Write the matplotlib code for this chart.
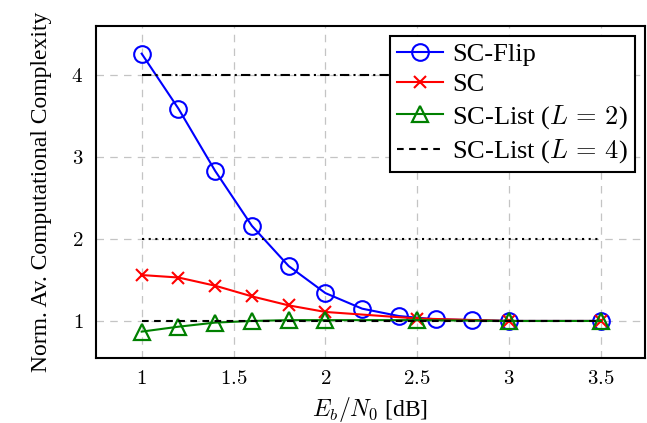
import matplotlib
matplotlib.use("Agg")
import matplotlib.pyplot as plt

plt.rcParams['font.family'] = ['Liberation Serif', 'DejaVu Serif']
plt.rcParams['mathtext.fontset'] = 'cm'

# Data
x_flip = [1.0, 1.2, 1.4, 1.6, 1.8, 2.0, 2.2, 2.4, 2.6, 2.8, 3.0, 3.5]
y_flip = [4.26, 3.59, 2.83, 2.16, 1.67, 1.34, 1.15, 1.06, 1.02, 1.01, 1.0, 1.0]

x_sc = [1.0, 1.2, 1.4, 1.6, 1.8, 2.0, 2.5, 3.0, 3.5]
y_sc = [1.56, 1.53, 1.43, 1.30, 1.19, 1.11, 1.03, 1.0, 1.0]

x_l2 = [1.0, 1.2, 1.4, 1.6, 1.8, 2.0, 2.5, 3.0, 3.5]
y_l2 = [0.87, 0.93, 0.98, 1.0, 1.01, 1.01, 1.01, 1.0, 1.0]

x_ref = [1.0, 3.5]
y_l4 = [1.0, 1.0]
y_dashdot = [4.0, 4.0]
y_dotted = [2.0, 2.0]

xticks = [1, 1.5, 2, 2.5, 3, 3.5]
xtick_labels = ['$1$', '$1.5$', '$2$', '$2.5$', '$3$', '$3.5$']
yticks = [1, 2, 3, 4]
ytick_labels = ['$1$', '$2$', '$3$', '$4$']

fig = plt.figure(figsize=(6.47, 4.23), dpi=100)
ax = fig.add_axes([0.148, 0.154, 0.849, 0.785])

lw = 1.5
ax.plot(x_flip, y_flip, color='blue', marker='o', markersize=12, markerfacecolor='none',
        markeredgewidth=1.5, lw=lw, label='SC-Flip', zorder=3)
ax.plot(x_sc, y_sc, color='red', marker='x', markersize=9, markeredgewidth=1.5,
        lw=lw, label='SC', zorder=4)
ax.plot(x_l2, y_l2, color='green', marker='^', markersize=11, markerfacecolor='none',
        markeredgewidth=1.6, lw=lw, label=r'SC-List ($L\,=\,2$)', zorder=5)
ax.plot(x_ref, y_l4, color='black', ls=(0, (3.2, 2.6)), lw=lw, label=r'SC-List ($L\,=\,4$)', zorder=6)
ax.plot(x_ref, y_dashdot, color='black', ls=(0, (4.5, 2, 1, 2)), lw=lw, zorder=6)
ax.plot(x_ref, y_dotted, color='black', ls=(0, (1, 2.2)), lw=lw, zorder=6)

ax.set_xlim(0.75, 3.74)
ax.set_ylim(0.55, 4.6)
ax.set_xticks(xticks)
ax.set_xticklabels(xtick_labels, fontsize=15)
ax.set_yticks(yticks)
ax.set_yticklabels(ytick_labels, fontsize=15)
ax.grid(True, color='#c4c4c4', ls=(0, (6, 5)), lw=0.9)
ax.tick_params(direction='in', length=0, pad=9)
for s in ax.spines.values():
    s.set_linewidth(1.5)

ax.set_xlabel('$E_b/N_0$ [dB]', fontsize=17, labelpad=4)
ax.set_ylabel('Norm. Av. Computational Complexity', fontsize=17, labelpad=14)

leg = ax.legend(loc='upper right', fontsize=19, fancybox=False, framealpha=1,
                edgecolor='black', borderpad=0.25, labelspacing=0.25,
                handlelength=1.75, handletextpad=0.35, borderaxespad=0.4)
leg.get_frame().set_linewidth(1.5)
leg.set_zorder(20)

fig.savefig('out.png', dpi=100)
